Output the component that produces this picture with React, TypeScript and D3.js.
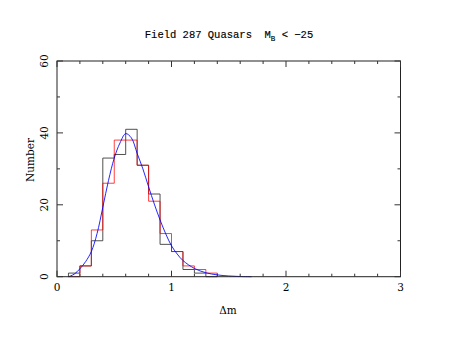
import React from 'react'
import * as d3 from 'd3'

// histogram bins (left edges, width 0.1)
const binStarts = [0.1, 0.2, 0.3, 0.4, 0.5, 0.6, 0.7, 0.8, 0.9, 1.0, 1.1, 1.2, 1.3]
const blackCounts = [1, 3, 10, 33, 34, 41, 31, 23, 9, 7, 2, 1, 0]
const redCounts = [0, 3, 13, 26, 38, 38, 31, 21, 12, 7, 3, 2, 1]
const binWidth = 0.1

// fitted curve
const fitX = [0.1, 0.15, 0.2, 0.25, 0.3, 0.35, 0.4, 0.45, 0.5, 0.55, 0.6, 0.65, 0.7, 0.75, 0.8, 0.85, 0.9, 0.95, 1.0, 1.05, 1.1, 1.2, 1.3, 1.4, 1.5, 1.6, 1.7]
const fitY = [0, 0.7, 2.2, 4.2, 7, 12, 19.3, 26.8, 33, 37.2, 39.8, 38.6, 34.3, 30, 25, 20.2, 15.8, 11.9, 8.6, 6.3, 4.5, 2.3, 1.1, 0.5, 0.2, 0.05, 0]

const xTicks = [0, 1, 2, 3]
const yTicks = [0, 20, 40, 60]

const FONT = 'DejaVu Serif'
const TITLE_FONT = 'Liberation Mono'

export default function App() {
  const width = 457
  const height = 353
  const left = 57
  const right = 400.5
  const top = 61
  const bottom = 276.7

  const x = d3.scaleLinear().domain([0, 3]).range([left, right])
  const y = d3.scaleLinear().domain([0, 60]).range([bottom, top])

  const stepLine = d3.line<[number, number]>()
    .x(d => x(d[0]))
    .y(d => y(d[1]))
    .curve(d3.curveStepAfter)

  function histPoints(counts: number[]): [number, number][] {
    const pts: [number, number][] = [[binStarts[0], 0]]
    binStarts.forEach((b, i) => pts.push([b, counts[i]]))
    const end = binStarts[binStarts.length - 1] + binWidth
    pts.push([end, counts[counts.length - 1]])
    pts.push([end, 0])
    return pts
  }

  const fitLine = d3.line<number>()
    .x((d, i) => x(fitX[i]))
    .y(d => y(d))
    .curve(d3.curveCatmullRom)

  const xMinor = d3.range(0, 3.001, 0.2)
  const yMinor = d3.range(0, 60.001, 10)

  const tickLen = (major: boolean) => (major ? 6 : 3)

  return (
    <svg width={width} height={height} style={{ display: 'block', position: 'absolute', left: 0, top: 0, background: '#fff' }}>
      {/* title */}
      <text x={229} y={38.3} textAnchor="middle" fontFamily={TITLE_FONT} fontSize={10.5} fill="#000" stroke="#000" strokeWidth={0.15}>
        Field 287 Quasars{'\u00a0\u00a0'}M
        <tspan fontSize={7.5} dy={3}>B</tspan>
        <tspan dy={-3}>{' < \u221225'}</tspan>
      </text>

      {/* histograms */}
      <path d={stepLine(histPoints(blackCounts)) || ''} fill="none" stroke="#333" strokeOpacity={0.85} strokeWidth={1} />
      <path d={stepLine(histPoints(redCounts)) || ''} fill="none" stroke="#ff0000" strokeOpacity={0.75} strokeWidth={1} />

      {/* fit */}
      <path d={fitLine(fitY) || ''} fill="none" stroke="#0000ff" strokeOpacity={0.85} strokeWidth={1} />

      {/* frame */}
      <rect x={left} y={top} width={right - left} height={bottom - top} fill="none" stroke="#222" strokeWidth={1} />

      {/* x ticks */}
      {xMinor.map((t, i) => {
        const major = Math.abs(t - Math.round(t)) < 1e-6
        const len = tickLen(major)
        return (
          <g key={'xt' + i}>
            <line x1={x(t)} x2={x(t)} y1={bottom} y2={bottom - len} stroke="#333" />
            <line x1={x(t)} x2={x(t)} y1={top} y2={top + len} stroke="#333" />
          </g>
        )
      })}
      {/* y ticks */}
      {yMinor.map((t, i) => {
        const major = t % 20 === 0
        const len = tickLen(major)
        return (
          <g key={'yt' + i}>
            <line x1={left} x2={left + len} y1={y(t)} y2={y(t)} stroke="#333" />
            <line x1={right} x2={right - len} y1={y(t)} y2={y(t)} stroke="#333" />
          </g>
        )
      })}

      {/* tick labels */}
      {xTicks.map(t => (
        <text key={'xl' + t} x={x(t)} y={291} textAnchor="middle" fontFamily={FONT} fontSize={10.5} fill="#000">
          {t}
        </text>
      ))}
      {yTicks.map(t => (
        <text key={'yl' + t} transform={`translate(48,${y(t)}) rotate(-90)`} textAnchor="middle" fontFamily={FONT} fontSize={10.5} fill="#000">
          {t}
        </text>
      ))}

      {/* axis labels */}
      <text x={228} y={313.5} textAnchor="middle" fontFamily={FONT} fontSize={10.5} fill="#000">
        {'\u0394m'}
      </text>
      <text transform="translate(33.5,160) rotate(-90)" textAnchor="middle" fontFamily={FONT} fontSize={10.5} fill="#000">
        Number
      </text>
    </svg>
  )
}
